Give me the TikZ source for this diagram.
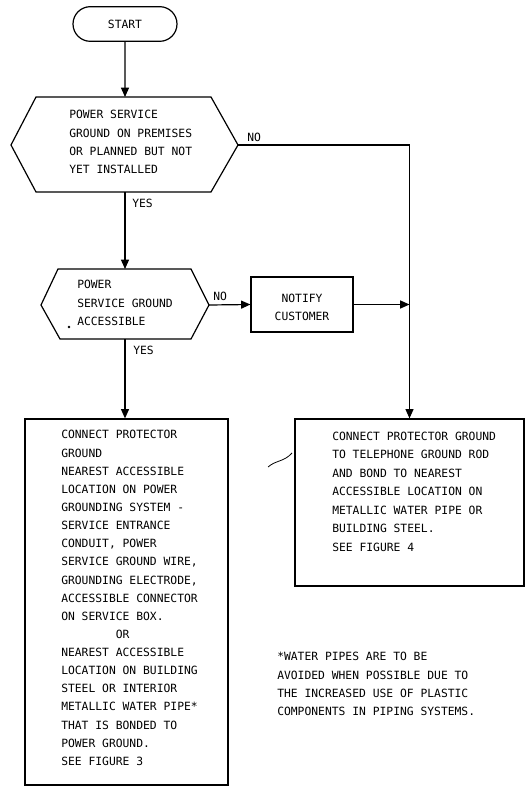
\documentclass[tikz,border=0pt]{standalone}
\usepackage{fontspec}
\usepackage{tikz}
\usetikzlibrary{arrows.meta,positioning,shapes.misc}
\newfontfamily\flowfont{DejaVu Sans Mono}

\begin{document}
\begin{tikzpicture}[x=0.75pt,y=-0.75pt,
    flowline/.style={line width=0.9pt},
    flowarrow/.style={line width=0.9pt,-{Triangle[length=7pt,width=6pt]}},
    flowtext/.style={font=\flowfont\fontsize{8.5}{13.6}\selectfont,inner sep=0pt,align=left},
    procbox/.style={draw,line width=0.9pt,inner sep=0pt}]
    \useasboundingbox (0,0) rectangle (526,795);

    % Start
    \node[draw,line width=0.9pt,rounded rectangle,minimum width=78pt,minimum height=26pt,
          flowtext,align=center] (start) at (125,24) {START};

    % First decision
    \coordinate (q1w) at (11,145);
    \coordinate (q1e) at (238,145);
    \coordinate (q1n) at (125,97);
    \coordinate (q1s) at (125,192);
    \draw[flowline] (q1w) -- (36,97) -- (211,97) -- (q1e) -- (211,192) -- (36,192) -- cycle;
    \node[flowtext,anchor=west] (q1text) at (69,142)
        {POWER SERVICE\\GROUND ON PREMISES\\OR PLANNED BUT NOT\\YET INSTALLED};

    % Second decision
    \coordinate (q2w) at (41,305);
    \coordinate (q2e) at (209,305);
    \coordinate (q2n) at (125,269);
    \coordinate (q2s) at (125,339);
    \draw[flowline] (q2w) -- (58,269) -- (191,269) -- (q2e) -- (191,339) -- (60,339) -- cycle;
    \node[flowtext,anchor=west] (q2text) at (77,303)
        {POWER\\SERVICE GROUND\\ACCESSIBLE};
    \fill (69,327) circle (1pt);

    % Notify
    \node[procbox,minimum width=76.5pt,minimum height=41.25pt] (notify) at (302,304.5) {};
    \node[flowtext,align=center] (notifytext) at (302,307) {NOTIFY\\CUSTOMER};

    % Action boxes
    \node[procbox,minimum width=152.25pt,minimum height=274.5pt] (lbox) at (126.5,602) {};
    \node[flowtext,anchor=west] (ltext) at (61,598)
        {CONNECT PROTECTOR\\GROUND\\NEAREST ACCESSIBLE\\LOCATION ON POWER\\GROUNDING SYSTEM -\\SERVICE ENTRANCE\\CONDUIT, POWER\\SERVICE GROUND WIRE,\\GROUNDING ELECTRODE,\\ACCESSIBLE CONNECTOR\\ON SERVICE BOX.\\\phantom{XXXXXXXX}OR\\NEAREST ACCESSIBLE\\LOCATION ON BUILDING\\STEEL OR INTERIOR\\METALLIC WATER PIPE*\\THAT IS BONDED TO\\POWER GROUND.\\SEE FIGURE 3};

    \node[procbox,minimum width=171.75pt,minimum height=125.25pt] (rbox) at (409.5,502.5) {};
    \node[flowtext,anchor=west,font=\flowfont\fontsize{8.5}{13.9}\selectfont] (rtext) at (332,491.5)
        {CONNECT PROTECTOR GROUND\\TO TELEPHONE GROUND ROD\\AND BOND TO NEAREST\\ACCESSIBLE LOCATION ON\\METALLIC WATER PIPE OR\\BUILDING STEEL.\\SEE FIGURE 4};
    \draw[line width=0.6pt] (268,467) .. controls (276,460) and (284,462) .. (292,453);

    % Footnote
    \node[flowtext,anchor=west] (note) at (277,684)
        {*WATER PIPES ARE TO BE\\AVOIDED WHEN POSSIBLE DUE TO\\THE INCREASED USE OF PLASTIC\\COMPONENTS IN PIPING SYSTEMS.};

    % Connectors
    \draw[flowarrow] (start) -- (q1n);
    \draw[flowarrow] (q1s) -- (q2n);
    \draw[flowarrow] (q2s) -- (q2s |- lbox.north);
    \draw[flowarrow] (q1e) -| (rbox.north);
    \draw[flowarrow] (q2e) -- (notify.west);
    \draw[flowarrow] (notify.east) -- (notify.east -| rbox.north);

    % Branch labels
    \node[flowtext,anchor=west] (q1no) at (247,137) {NO};
    \node[flowtext,anchor=west] (q1yes) at (132,203) {YES};
    \node[flowtext,anchor=west] (q2no) at (213,296) {NO};
    \node[flowtext,anchor=west] (q2yes) at (133,350) {YES};
\end{tikzpicture}
\end{document}
